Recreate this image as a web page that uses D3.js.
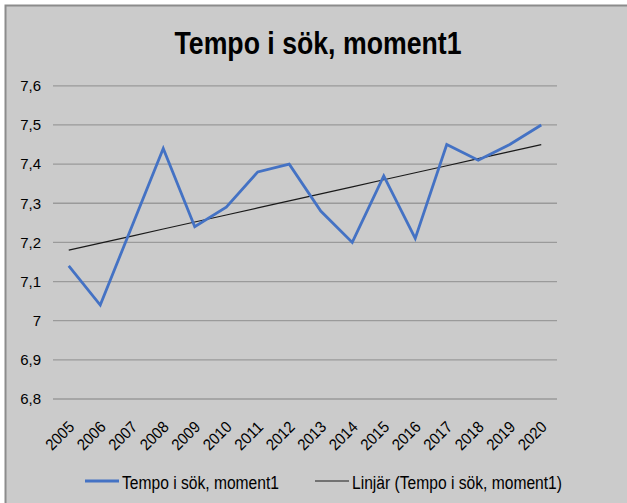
<!DOCTYPE html>
<html>
<head>
<meta charset="utf-8">
<script src="https://cdn.jsdelivr.net/npm/d3@7"></script>
<style>
  html, body { margin: 0; padding: 0; background: #fff; }
  svg text { font-family: 'Liberation Sans', Arial, sans-serif; fill: #000; }
</style>
</head>
<body>
<div id="chart"></div>
<script>
// data
const years = ['2005','2006','2007','2008','2009','2010','2011','2012','2013','2014','2015','2016','2017','2018','2019','2020'];
const tempo = [7.14, 7.04, 7.24, 7.44, 7.24, 7.29, 7.38, 7.40, 7.28, 7.20, 7.37, 7.21, 7.45, 7.41, 7.45, 7.50];
const yTicks = [6.8, 6.9, 7.0, 7.1, 7.2, 7.3, 7.4, 7.5, 7.6];
const title = 'Tempo i sök, moment1';
const legendLabels = ['Tempo i sök, moment1', 'Linjär (Tempo i sök, moment1)'];

const width = 627, height = 503;
const plot = {left: 53, right: 557, top: 85.8, bottom: 399};

const sv = d3.formatLocale({decimal: ',', thousands: ' ', grouping: [3], currency: ['', ' kr']});
const fmt = sv.format('~g');

const svg = d3.select('#chart').append('svg')
  .attr('width', width)
  .attr('height', height);

// chart area background + frame
svg.append('rect')
  .attr('x', 5).attr('y', 5)
  .attr('width', width - 5).attr('height', height - 5)
  .style('fill', '#cbcbcb');
svg.append('path')
  .attr('d', `M5.5,${height} V5.5 H${width}`)
  .style('fill', 'none')
  .style('stroke', '#8c8c8c')
  .style('stroke-width', 2);

const x = d3.scalePoint()
  .domain(years)
  .range([plot.left, plot.right])
  .padding(0.5);

const y = d3.scaleLinear()
  .domain([6.8, 7.6])
  .range([plot.bottom, plot.top]);

// horizontal grid
svg.append('g')
  .attr('class', 'grid')
  .selectAll('line')
  .data(yTicks)
  .join('line')
  .attr('x1', plot.left).attr('x2', plot.right)
  .attr('y1', d => y(d)).attr('y2', d => y(d))
  .style('stroke', '#9a9a9a')
  .style('stroke-width', 1.3);

// y axis labels
const yAxis = d3.axisLeft(y)
  .tickValues(yTicks)
  .tickFormat(fmt)
  .tickSize(0)
  .tickPadding(12);
svg.append('g')
  .attr('class', 'y axis')
  .attr('transform', `translate(${plot.left},0)`)
  .call(yAxis)
  .call(g => g.select('.domain').remove())
  .selectAll('text')
  .style('font-size', '15px')
  .style('font-family', "'Liberation Sans', sans-serif")
  .attr('fill', '#000');

// x axis labels, rotated
const xAxis = d3.axisBottom(x).tickSize(0).tickPadding(0);
svg.append('g')
  .attr('class', 'x axis')
  .attr('transform', `translate(0,${plot.bottom})`)
  .call(xAxis)
  .call(g => g.select('.domain').remove())
  .selectAll('text')
  .style('font-size', '16px')
  .style('font-family', "'Liberation Sans', sans-serif")
  .attr('fill', '#000')
  .attr('text-anchor', 'end')
  .attr('dy', '0.35em')
  .attr('y', 0)
  .attr('textLength', 33)
  .attr('lengthAdjust', 'spacingAndGlyphs')
  .attr('transform', 'translate(2,25) rotate(-45)');

// least squares trend line
const xi = tempo.map((d, i) => i);
const trend = leastSquares(xi, tempo);

svg.append('path')
  .datum(years)
  .attr('class', 'trend')
  .attr('d', d3.line()
    .x(d => x(d))
    .y((d, i) => y(trend(i))))
  .style('fill', 'none')
  .style('stroke', '#1a1a1a')
  .style('stroke-width', 1.2);

svg.append('path')
  .datum(tempo)
  .attr('class', 'series')
  .attr('d', d3.line()
    .x((d, i) => x(years[i]))
    .y(d => y(d)))
  .style('fill', 'none')
  .style('stroke', '#4472c4')
  .style('stroke-width', 2.8)
  .style('stroke-linejoin', 'miter');

// title
svg.append('text')
  .attr('x', 318)
  .attr('y', 54)
  .attr('text-anchor', 'middle')
  .attr('textLength', 287)
  .attr('lengthAdjust', 'spacingAndGlyphs')
  .style('font-size', '31px')
  .style('font-weight', 'bold')
  .text(title);

// legend
const legend = svg.append('g').attr('class', 'legend');
const legendItems = [
  {x: 85, label: legendLabels[0], color: '#4472c4', w: 2.8, tw: 157},
  {x: 315, label: legendLabels[1], color: '#1a1a1a', w: 1.2, tw: 210}
];
legendItems.forEach(it => {
  legend.append('line')
    .attr('x1', it.x).attr('x2', it.x + 34)
    .attr('y1', 481).attr('y2', 481)
    .style('stroke', it.color)
    .style('stroke-width', it.w);
  legend.append('text')
    .attr('x', it.x + 37)
    .attr('y', 489)
    .attr('textLength', it.tw)
    .attr('lengthAdjust', 'spacingAndGlyphs')
    .style('font-size', '18px')
    .text(it.label);
});

function leastSquares(xs, ys) {
  const xBar = d3.mean(xs), yBar = d3.mean(ys);
  const sxx = d3.sum(xs, d => (d - xBar) ** 2);
  const sxy = d3.sum(xs, (d, i) => (d - xBar) * (ys[i] - yBar));
  const slope = sxy / sxx;
  const intercept = yBar - xBar * slope;
  return v => v * slope + intercept;
}
</script>
</body>
</html>
